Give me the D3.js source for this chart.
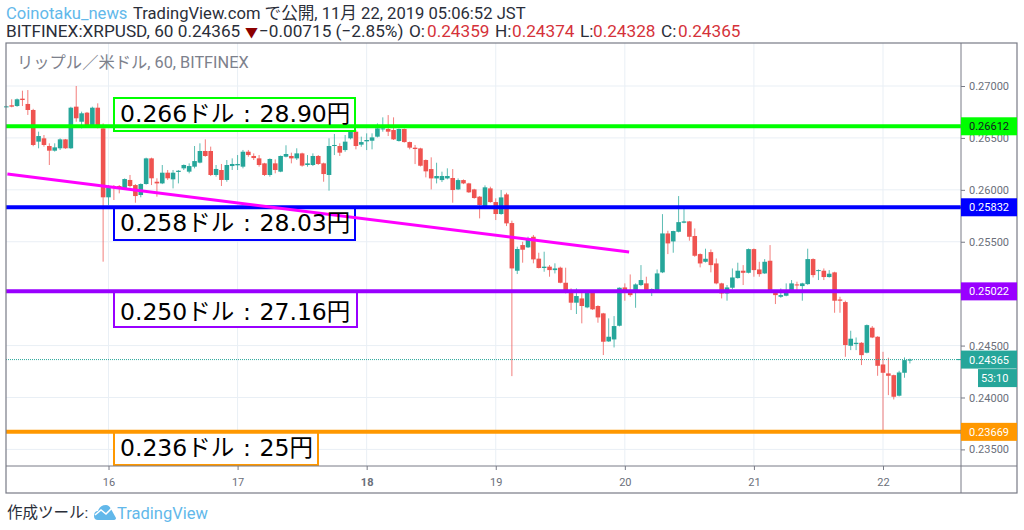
<!DOCTYPE html>
<html>
<head>
<meta charset="utf-8">
<script src="https://cdn.jsdelivr.net/npm/d3@7"></script>
<style>
  body { margin: 0; background: #fff; }
  svg { display: block; }
  text { font-family: Roboto, "Noto Sans CJK JP", sans-serif; }
</style>
</head>
<body>
<svg width="1024" height="530"></svg>
<script>
// prices in 1/100000 dollar, one value per hour, first candle is 19 hours before the 16th
const firstHour = -19;
const opens = [
  26801,26814,26807,26878,26827,26769,26464,26496,26422,26377,
  26400,26486,26400,26801,26656,26743,26624,26791,26592,25928,
  26037,26037,26014,26095,26046,25950,26056,26303,26078,26062,
  26165,26101,26172,26207,26175,26223,26262,26374,26374,26143,
  26191,26095,26229,26236,26223,26367,26326,26303,26255,26143,
  26255,26175,26319,26326,26303,26351,26239,26239,26326,26255,
  26143,26422,26422,26383,26496,26560,26435,26467,26473,26512,
  26582,26586,26576,26470,26586,26460,26406,26399,26287,26200,
  26110,26094,26110,26114,26004,26094,26062,26004,25934,25821,
  26014,25882,25767,25956,25680,25221,25468,25446,25548,25337,
  25247,25260,25227,25250,25105,25019,24913,24954,24868,25019,
  24881,24810,24540,24559,24691,25060,25018,25018,25083,25099,
  25028,25034,25205,25580,25503,25596,25683,25696,25555,25381,
  25307,25400,25291,25099,25002,25057,25150,25221,25201,25429,
  25233,25195,25317,25018,24970,24980,25034,25089,25073,25092,
  25333,25221,25221,25160,25205,24944,24919,24498,24514,24527,
  24431,24672,24585,24318,24232,24215,24017,24238,24359];
const closes = [
  26804,26801,26872,26865,26769,26432,26518,26432,26377,26409,
  26486,26400,26791,26689,26737,26624,26791,26615,25928,26030,
  26024,26014,26104,26037,25940,26056,26303,26111,26062,26165,
  26111,26165,26184,26239,26229,26277,26374,26326,26143,26201,
  26095,26239,26249,26249,26367,26335,26306,26239,26143,26297,
  26191,26326,26345,26303,26351,26233,26255,26326,26249,26152,
  26422,26432,26358,26464,26560,26422,26460,26480,26505,26592,
  26592,26560,26486,26586,26460,26406,26393,26232,26178,26110,
  26133,26133,26133,25998,26094,26062,25976,25921,25854,26024,
  25882,25767,25927,25677,25243,25430,25423,25532,25330,25247,
  25260,25227,25243,25105,25019,24913,24977,24881,25019,24849,
  24771,24537,24585,24688,25057,25015,24986,25089,25131,25034,
  25044,25195,25580,25484,25603,25689,25696,25548,25365,25291,
  25336,25275,25099,25002,25060,25156,25221,25201,25429,25227,
  25188,25307,25018,24986,24986,25034,25099,25079,25099,25333,
  25179,25227,25160,25192,24932,24932,24505,24566,24527,24408,
  24697,24578,24305,24238,24209,24007,24241,24360,24365];
const highs = [
  26810,26872,26880,26955,26961,26780,26560,26528,26448,26448,
  26496,26490,26800,27000,26753,26750,26801,26833,26640,26046,
  26046,26046,26110,26143,26055,26062,26310,26310,26111,26239,
  26191,26191,26191,26245,26255,26422,26448,26486,26416,26239,
  26249,26287,26303,26335,26384,26384,26351,26335,26260,26303,
  26293,26330,26429,26358,26400,26358,26335,26351,26335,26262,
  26496,26538,26448,26528,26592,26576,26512,26544,26544,26640,
  26698,26720,26698,26590,26590,26465,26432,26405,26293,26313,
  26261,26175,26207,26200,26110,26100,26068,26010,25940,26043,
  26030,25918,25998,25972,25703,25452,25500,25548,25565,25394,
  25404,25276,25292,25260,25250,25051,25051,25035,25035,25035,
  24888,24815,24762,24784,25060,25099,25185,25099,25275,25163,
  25050,25233,25766,25606,25606,25940,25821,25700,25628,25388,
  25433,25426,25339,25105,25083,25243,25298,25275,25435,25435,
  25307,25333,25468,25024,25050,25099,25131,25115,25105,25433,
  25340,25233,25243,25227,25211,24970,24932,24643,24578,24533,
  24703,24688,24590,24440,24383,24220,24257,24386,24374];
const lows = [
  26795,26795,26800,26807,26721,26420,26400,26416,26239,26368,
  26384,26395,26395,26656,26592,26608,26608,26592,25308,25854,
  25902,25966,26005,26024,25876,25928,26050,26046,25934,26055,
  26095,26014,26062,26191,26159,26207,26255,26319,26133,26127,
  26037,26078,26191,26191,26207,26319,26287,26223,26133,26127,
  26159,26170,26313,26255,26287,26223,26223,26229,26240,26078,
  25992,26335,26326,26367,26486,26390,26415,26383,26390,26505,
  26560,26518,26480,26465,26455,26390,26248,26225,26120,26004,
  26062,26075,26101,25876,25998,26055,25970,25915,25725,25815,
  25876,25709,25760,25651,24206,25189,25298,25440,25292,25243,
  25211,25163,25195,25100,25003,24842,24804,24714,24860,24843,
  24720,24409,24535,24482,24685,24932,24970,24864,25073,25009,
  24977,25028,25198,25381,25394,25590,25678,25510,25355,25253,
  25300,25205,25090,24954,24932,25041,25145,25083,25195,25163,
  25163,25190,25012,24900,24960,24975,25028,25034,24932,25085,
  25156,25131,25131,25155,24816,24816,24392,24456,24456,24312,
  24425,24572,24209,23686,24023,23981,24010,24190,24328];

// 0.25000 sits under the 0.25022 tag in the original, so it is left out
const priceTicks = [0.235, 0.24, 0.245, 0.255, 0.26, 0.265, 0.27];
const dayHours = [0, 24, 48, 72, 96, 120, 144];
const dayLabels = ['16', '17', '18', '19', '20', '21', '22'];

const levelPrices = [0.26612, 0.25832, 0.25022, 0.23669];
const levelColors = ['#00ff00', '#0000ff', '#9900ff', '#ff9800'];
const levelTextColors = ['#131722', '#ffffff', '#ffffff', '#ffffff'];
const noteLabels = ['0.266ドル : 28.90円', '0.258ドル : 28.03円', '0.250ドル : 27.16円', '0.236ドル : 25円'];

const trendHours = [-18.8, 96.8];
const trendPrices = [0.26152, 0.25401];
const lastPrice = 0.24365;

const left = 6, top_ = 43, axisX = 961, axisY = 466, right = 1017, bottom = 493,
      up = '#26a69a', down = '#ef5350', gridColor = '#e9eff5', frameColor = '#787b86',
      axisText = '#6b6f7a', quoteRed = '#d5323a', textColor = '#2a2e39', logoBlue = '#62b8ea';

const xScale = d3.scaleLinear().domain([0, 144]).range([108.5, 883]),
      yScale = d3.scaleLinear().domain([0.235, 0.27]).range([449.4, 86]);

const candles = opens.map((o, i) => ({
  hour: firstHour + i,
  open: o / 1e5,
  close: closes[i] / 1e5,
  high: highs[i] / 1e5,
  low: lows[i] / 1e5
}));

const svg = d3.select('svg');

// header
const head1 = svg.append('text').attr('y', 19).style('font-size', '16.6px').attr('fill', textColor);
head1.append('tspan').text('Coinotaku_news').attr('x', 6).attr('fill', logoBlue);
head1.append('tspan').text('TradingView.com で公開, 11月 22, 2019 05:06:52 JST').attr('x', 133);

const head2 = svg.append('text').attr('y', 37).style('font-size', '17.2px').attr('fill', textColor);
[
  ['BITFINEX:XRPUSD, 60 0.24365', 6, textColor],
  ['▼', 245, '#8b0000', '13px'],
  ['−0.00715 (−2.85%)', 259, textColor],
  ['O:', 409, textColor],
  ['0.24359', 427, quoteRed],
  ['H:', 495, textColor],
  ['0.24374', 512, quoteRed],
  ['L:', 580, textColor],
  ['0.24328', 593, quoteRed],
  ['C:', 661, textColor],
  ['0.24365', 678, quoteRed]
].forEach((p) => head2.append('tspan').text(p[0]).attr('x', p[1]).attr('fill', p[2]).style('font-size', p[3] || null));

// grid
svg.append('g').selectAll('line').data(priceTicks).enter().append('line')
    .attr('x1', left).attr('x2', axisX)
    .attr('y1', (d) => yScale(d)).attr('y2', (d) => yScale(d))
    .attr('stroke', gridColor);
svg.append('g').selectAll('line').data(dayHours).enter().append('line')
    .attr('x1', (d) => xScale(d)).attr('x2', (d) => xScale(d))
    .attr('y1', top_).attr('y2', axisY)
    .attr('stroke', gridColor);

svg.append('text').text('リップル／米ドル, 60, BITFINEX')
    .attr('x', 17).attr('y', 68)
    .style('font-size', '16.3px').attr('fill', '#7d818c');

// candles
svg.append('g').selectAll('line').data(candles).enter().append('line')
    .attr('x1', (d) => xScale(d.hour)).attr('x2', (d) => xScale(d.hour))
    .attr('y1', (d) => yScale(d.high)).attr('y2', (d) => yScale(d.low))
    .attr('stroke', (d) => d.close >= d.open ? up : down)
    .attr('stroke-opacity', 0.75);

svg.append('g').selectAll('rect').data(candles).enter().append('rect')
    .attr('x', (d) => xScale(d.hour) - 2.3)
    .attr('width', 4.6)
    .attr('y', (d) => yScale(Math.max(d.open, d.close)))
    .attr('height', (d) => Math.max(1, Math.abs(yScale(d.open) - yScale(d.close))))
    .attr('fill', (d) => d.close >= d.open ? up : down);

// last price line
svg.append('line')
    .attr('x1', left).attr('x2', axisX)
    .attr('y1', yScale(lastPrice)).attr('y2', yScale(lastPrice))
    .attr('stroke', up).attr('stroke-dasharray', '1 1');

// note boxes, white so the grid does not show through
const noteBoxes = [[114, 98, 241, 33], [114, 207, 241, 33], [114, 292, 243, 35], [114, 432, 204, 33]];
const noteBaselines = [122, 231, 320, 456];

svg.append('g').selectAll('rect').data(noteBoxes).enter().append('rect')
    .attr('x', (d) => d[0]).attr('y', (d) => d[1])
    .attr('width', (d) => d[2]).attr('height', (d) => d[3])
    .attr('fill', '#fff')
    .attr('stroke', (d, i) => levelColors[i])
    .attr('stroke-width', 2);

// levels and trend line
svg.append('g').selectAll('line').data(levelPrices).enter().append('line')
    .attr('x1', left).attr('x2', axisX)
    .attr('y1', (d) => yScale(d)).attr('y2', (d) => yScale(d))
    .attr('stroke', (d, i) => levelColors[i])
    .attr('stroke-width', 4);

svg.append('line')
    .attr('x1', xScale(trendHours[0])).attr('x2', xScale(trendHours[1]))
    .attr('y1', yScale(trendPrices[0])).attr('y2', yScale(trendPrices[1]))
    .attr('stroke', '#ff00ff').attr('stroke-width', 3);

svg.append('g').selectAll('text').data(noteLabels).enter().append('text')
    .text((d) => d)
    .attr('x', 120)
    .attr('y', (d, i) => noteBaselines[i])
    .style('font-family', '"DejaVu Sans", "Noto Sans CJK JP"')
    .style('font-size', '23.5px')
    .style('word-spacing', '1.2px')
    .attr('fill', '#000');

// frame
svg.append('rect')
    .attr('x', left).attr('y', top_)
    .attr('width', right - left).attr('height', bottom - top_)
    .attr('fill', 'none').attr('stroke', frameColor).attr('stroke-width', 1.2);
svg.append('line').attr('x1', axisX).attr('x2', axisX).attr('y1', top_).attr('y2', bottom)
    .attr('stroke', frameColor);

// axes
const yAxis = svg.append('g')
    .attr('transform', `translate(${axisX}, 0)`)
    .call(d3.axisRight(yScale).tickValues(priceTicks).tickFormat(d3.format('.5f')).tickSize(4).tickPadding(4));
const xAxis = svg.append('g')
    .attr('transform', `translate(0, ${axisY})`)
    .call(d3.axisBottom(xScale).tickValues(dayHours).tickFormat((d, i) => dayLabels[i]).tickSize(4).tickPadding(8));

yAxis.select('.domain').remove();
xAxis.select('.domain').attr('d', `M${left},0H${right}`).attr('stroke', frameColor);
[yAxis, xAxis].forEach((a) => {
  a.selectAll('.tick line').attr('stroke', frameColor);
  a.selectAll('text').attr('fill', axisText).style('font-family', 'Roboto').style('font-size', '11px');
});
xAxis.selectAll('text').style('font-weight', (d) => d === 48 ? 'bold' : 'normal');

// level tags on the price axis
const tags = svg.append('g').selectAll('g').data(levelPrices.concat([lastPrice])).enter().append('g')
    .attr('transform', (d) => `translate(${axisX}, ${yScale(d)})`);
tags.append('rect')
    .attr('y', -9).attr('width', right - axisX).attr('height', 18)
    .attr('fill', (d, i) => i < 4 ? levelColors[i] : up);
tags.append('line').attr('x2', -4).attr('stroke', (d, i) => i < 4 ? levelColors[i] : up);
tags.append('text')
    .text((d) => d3.format('.5f')(d))
    .attr('x', 8).attr('y', 4)
    .attr('fill', (d, i) => i < 4 ? levelTextColors[i] : '#fff')
    .style('font-size', '11px');

svg.append('rect').attr('x', 978).attr('y', yScale(lastPrice) + 9.5).attr('width', right - 978).attr('height', 18).attr('fill', up);
svg.append('text').text('53:10')
    .attr('x', 981).attr('y', yScale(lastPrice) + 22.5)
    .attr('fill', '#fff').style('font-size', '11px');

// footer
svg.append('text').text('作成ツール:')
    .attr('x', 7).attr('y', 518)
    .style('font-size', '15.5px').attr('fill', textColor);
svg.append('path')
    .attr('d', 'M94,516 Q94,511 98,511 Q100,505 106,505 Q109,505 111,509 L116,518 Q116,520 113,520 L98,520 Q94,520 94,516 Z')
    .attr('fill', logoBlue);
svg.append('polyline')
    .attr('points', '95,515 101,510 106,514 112,508')
    .attr('fill', 'none').attr('stroke', '#fff').attr('stroke-width', 1.6);
svg.append('text').text('TradingView')
    .attr('x', 117).attr('y', 519)
    .style('font-size', '16.5px').attr('fill', logoBlue);
</script>
</body>
</html>
